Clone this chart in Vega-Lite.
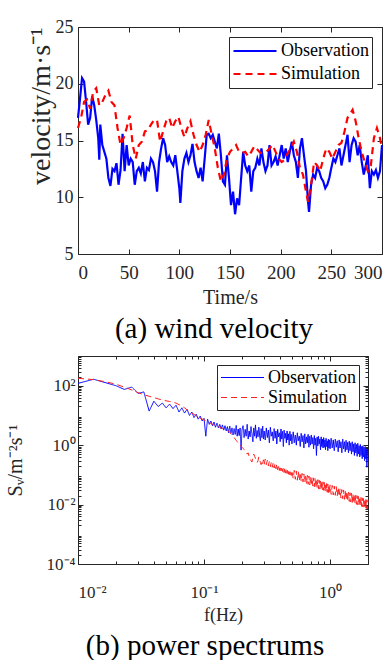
{
"$schema": "https://vega.github.io/schema/vega-lite/v6.json",
"padding": {"left": 4, "top": 17, "right": 0, "bottom": 0},
"spacing": 10,
"resolve": {"scale": {"color": "independent", "strokeDash": "independent"}, "legend": {"color": "independent", "strokeDash": "independent"}},
"config": {
  "font": "Liberation Serif",
  "view": {"stroke": "#262626", "strokeWidth": 1},
  "axis": {"domain": false, "grid": false, "tickColor": "#262626", "tickSize": -5, "labelPadding": 9, "labelFont": "Liberation Serif", "titleFont": "Liberation Serif", "labelColor": "#262626", "titleColor": "#262626", "titleFontWeight": "normal"},
  "legend": {"labelFont": "Liberation Serif", "labelColor": "black", "strokeColor": "#262626", "fillColor": "white", "symbolType": "stroke", "cornerRadius": 0}
},
"vconcat": [
{"resolve": {"scale": {"color": "independent", "strokeDash": "independent"}, "legend": {"color": "independent", "strokeDash": "independent"}},
 "hconcat": [
{
  "width": 304, "height": 227,
  "title": {"text": "(a) wind velocity", "orient": "bottom", "anchor": "middle", "fontSize": 29, "fontWeight": "normal", "font": "Liberation Serif", "color": "black", "offset": 8, "dx": -16},
  "data": {"values": [
{"t":0,"v":17,"s":"Observation"},{"t":2,"v":18.7,"s":"Observation"},{"t":4,"v":20.5,"s":"Observation"},{"t":6,"v":20.2,"s":"Observation"},{"t":8,"v":18.4,"s":"Observation"},{"t":10,"v":16.4,"s":"Observation"},{"t":12,"v":17,"s":"Observation"},{"t":14,"v":18.9,"s":"Observation"},{"t":16,"v":18.1,"s":"Observation"},{"t":18,"v":16.8,"s":"Observation"},{"t":20,"v":15.2,"s":"Observation"},{"t":21,"v":13.3,"s":"Observation"},{"t":22,"v":16.4,"s":"Observation"},{"t":24,"v":14.6,"s":"Observation"},{"t":26,"v":14,"s":"Observation"},{"t":28,"v":13.4,"s":"Observation"},{"t":30,"v":11.7,"s":"Observation"},{"t":32,"v":11,"s":"Observation"},{"t":34,"v":12.5,"s":"Observation"},{"t":36,"v":12.3,"s":"Observation"},{"t":38,"v":13,"s":"Observation"},{"t":40,"v":11.1,"s":"Observation"},{"t":42,"v":12.4,"s":"Observation"},{"t":44,"v":15.6,"s":"Observation"},{"t":46,"v":12.3,"s":"Observation"},{"t":48,"v":14.6,"s":"Observation"},{"t":50,"v":12.8,"s":"Observation"},{"t":52,"v":13.4,"s":"Observation"},{"t":54,"v":13.1,"s":"Observation"},{"t":56,"v":11.1,"s":"Observation"},{"t":58,"v":12.3,"s":"Observation"},{"t":60,"v":12.6,"s":"Observation"},{"t":62,"v":12.1,"s":"Observation"},{"t":64,"v":13.1,"s":"Observation"},{"t":66,"v":11.4,"s":"Observation"},{"t":68,"v":12.6,"s":"Observation"},{"t":70,"v":12.4,"s":"Observation"},{"t":72,"v":13.4,"s":"Observation"},{"t":74,"v":13.1,"s":"Observation"},{"t":76,"v":12.3,"s":"Observation"},{"t":78,"v":10.5,"s":"Observation"},{"t":80,"v":13.1,"s":"Observation"},{"t":82,"v":14.3,"s":"Observation"},{"t":84,"v":15.2,"s":"Observation"},{"t":86,"v":14.6,"s":"Observation"},{"t":88,"v":13.1,"s":"Observation"},{"t":90,"v":13.6,"s":"Observation"},{"t":92,"v":13.1,"s":"Observation"},{"t":94,"v":12.8,"s":"Observation"},{"t":96,"v":13.7,"s":"Observation"},{"t":98,"v":12.3,"s":"Observation"},{"t":100,"v":10.8,"s":"Observation"},{"t":101,"v":9.5,"s":"Observation"},{"t":103,"v":12.3,"s":"Observation"},{"t":105,"v":13.4,"s":"Observation"},{"t":107,"v":13.9,"s":"Observation"},{"t":109,"v":13.1,"s":"Observation"},{"t":111,"v":13.7,"s":"Observation"},{"t":113,"v":14.7,"s":"Observation"},{"t":115,"v":13.1,"s":"Observation"},{"t":117,"v":12.3,"s":"Observation"},{"t":119,"v":11.7,"s":"Observation"},{"t":121,"v":12.6,"s":"Observation"},{"t":123,"v":11.4,"s":"Observation"},{"t":125,"v":13.4,"s":"Observation"},{"t":127,"v":15.5,"s":"Observation"},{"t":129,"v":15.6,"s":"Observation"},{"t":131,"v":15.2,"s":"Observation"},{"t":133,"v":15.5,"s":"Observation"},{"t":135,"v":14.9,"s":"Observation"},{"t":137,"v":14.3,"s":"Observation"},{"t":139,"v":15.6,"s":"Observation"},{"t":141,"v":13.7,"s":"Observation"},{"t":143,"v":11.4,"s":"Observation"},{"t":145,"v":11.1,"s":"Observation"},{"t":147,"v":13.7,"s":"Observation"},{"t":149,"v":11.7,"s":"Observation"},{"t":151,"v":9.3,"s":"Observation"},{"t":153,"v":10.5,"s":"Observation"},{"t":155,"v":8.5,"s":"Observation"},{"t":157,"v":9.9,"s":"Observation"},{"t":159,"v":9.3,"s":"Observation"},{"t":161,"v":11.7,"s":"Observation"},{"t":163,"v":14,"s":"Observation"},{"t":165,"v":12.8,"s":"Observation"},{"t":167,"v":12.3,"s":"Observation"},{"t":169,"v":12.8,"s":"Observation"},{"t":171,"v":10.5,"s":"Observation"},{"t":173,"v":12.3,"s":"Observation"},{"t":175,"v":12.6,"s":"Observation"},{"t":177,"v":13.4,"s":"Observation"},{"t":179,"v":12.8,"s":"Observation"},{"t":181,"v":14.3,"s":"Observation"},{"t":183,"v":13.1,"s":"Observation"},{"t":185,"v":12.3,"s":"Observation"},{"t":187,"v":12.8,"s":"Observation"},{"t":189,"v":14.6,"s":"Observation"},{"t":191,"v":12.8,"s":"Observation"},{"t":193,"v":13.1,"s":"Observation"},{"t":195,"v":13.6,"s":"Observation"},{"t":197,"v":12.8,"s":"Observation"},{"t":199,"v":13.7,"s":"Observation"},{"t":201,"v":14.6,"s":"Observation"},{"t":203,"v":13.4,"s":"Observation"},{"t":205,"v":14.3,"s":"Observation"},{"t":207,"v":13.1,"s":"Observation"},{"t":209,"v":14,"s":"Observation"},{"t":211,"v":14.9,"s":"Observation"},{"t":213,"v":13.7,"s":"Observation"},{"t":215,"v":13.1,"s":"Observation"},{"t":217,"v":11.7,"s":"Observation"},{"t":219,"v":14.3,"s":"Observation"},{"t":221,"v":15.2,"s":"Observation"},{"t":223,"v":13.7,"s":"Observation"},{"t":225,"v":12.3,"s":"Observation"},{"t":227,"v":9.6,"s":"Observation"},{"t":228,"v":8.7,"s":"Observation"},{"t":230,"v":11.1,"s":"Observation"},{"t":232,"v":12,"s":"Observation"},{"t":234,"v":11.7,"s":"Observation"},{"t":236,"v":12.6,"s":"Observation"},{"t":238,"v":12.3,"s":"Observation"},{"t":240,"v":11.7,"s":"Observation"},{"t":242,"v":11.4,"s":"Observation"},{"t":244,"v":10.8,"s":"Observation"},{"t":246,"v":11.1,"s":"Observation"},{"t":248,"v":11.7,"s":"Observation"},{"t":250,"v":12.6,"s":"Observation"},{"t":252,"v":13.4,"s":"Observation"},{"t":254,"v":13.1,"s":"Observation"},{"t":256,"v":13.7,"s":"Observation"},{"t":258,"v":14.3,"s":"Observation"},{"t":260,"v":12.8,"s":"Observation"},{"t":262,"v":13.7,"s":"Observation"},{"t":264,"v":14.6,"s":"Observation"},{"t":266,"v":15.5,"s":"Observation"},{"t":268,"v":13.1,"s":"Observation"},{"t":270,"v":14.6,"s":"Observation"},{"t":272,"v":15.2,"s":"Observation"},{"t":274,"v":14.9,"s":"Observation"},{"t":276,"v":13.7,"s":"Observation"},{"t":278,"v":14.6,"s":"Observation"},{"t":280,"v":13.1,"s":"Observation"},{"t":282,"v":12,"s":"Observation"},{"t":284,"v":12.8,"s":"Observation"},{"t":286,"v":13.7,"s":"Observation"},{"t":288,"v":10.8,"s":"Observation"},{"t":290,"v":12.3,"s":"Observation"},{"t":292,"v":12,"s":"Observation"},{"t":294,"v":12.4,"s":"Observation"},{"t":296,"v":11.7,"s":"Observation"},{"t":298,"v":12.3,"s":"Observation"},{"t":300,"v":14.6,"s":"Observation"},
{"t":0,"v":16.1,"s":"Simulation"},{"t":3,"v":17,"s":"Simulation"},{"t":6,"v":18.4,"s":"Simulation"},{"t":9,"v":18.6,"s":"Simulation"},{"t":12,"v":17.8,"s":"Simulation"},{"t":15,"v":19.3,"s":"Simulation"},{"t":18,"v":19.6,"s":"Simulation"},{"t":21,"v":18.1,"s":"Simulation"},{"t":24,"v":18.4,"s":"Simulation"},{"t":27,"v":19,"s":"Simulation"},{"t":30,"v":19.4,"s":"Simulation"},{"t":33,"v":18.4,"s":"Simulation"},{"t":36,"v":18.1,"s":"Simulation"},{"t":39,"v":16.1,"s":"Simulation"},{"t":42,"v":14.6,"s":"Simulation"},{"t":45,"v":15.2,"s":"Simulation"},{"t":48,"v":16.1,"s":"Simulation"},{"t":51,"v":17.2,"s":"Simulation"},{"t":54,"v":14.6,"s":"Simulation"},{"t":57,"v":13.4,"s":"Simulation"},{"t":60,"v":14.6,"s":"Simulation"},{"t":63,"v":14.9,"s":"Simulation"},{"t":66,"v":15.8,"s":"Simulation"},{"t":69,"v":15.9,"s":"Simulation"},{"t":72,"v":16.4,"s":"Simulation"},{"t":75,"v":16.8,"s":"Simulation"},{"t":78,"v":16.8,"s":"Simulation"},{"t":81,"v":14.9,"s":"Simulation"},{"t":84,"v":15.8,"s":"Simulation"},{"t":87,"v":16.7,"s":"Simulation"},{"t":90,"v":17,"s":"Simulation"},{"t":93,"v":16.1,"s":"Simulation"},{"t":96,"v":16.7,"s":"Simulation"},{"t":99,"v":17.1,"s":"Simulation"},{"t":102,"v":16.1,"s":"Simulation"},{"t":105,"v":15.3,"s":"Simulation"},{"t":108,"v":16.1,"s":"Simulation"},{"t":111,"v":16.7,"s":"Simulation"},{"t":114,"v":15.5,"s":"Simulation"},{"t":117,"v":14.6,"s":"Simulation"},{"t":120,"v":14,"s":"Simulation"},{"t":123,"v":14.6,"s":"Simulation"},{"t":126,"v":15.5,"s":"Simulation"},{"t":129,"v":16.8,"s":"Simulation"},{"t":132,"v":15.5,"s":"Simulation"},{"t":135,"v":14.3,"s":"Simulation"},{"t":138,"v":12.6,"s":"Simulation"},{"t":141,"v":11.4,"s":"Simulation"},{"t":144,"v":12,"s":"Simulation"},{"t":147,"v":13.4,"s":"Simulation"},{"t":150,"v":14,"s":"Simulation"},{"t":153,"v":14.3,"s":"Simulation"},{"t":156,"v":14.6,"s":"Simulation"},{"t":159,"v":14,"s":"Simulation"},{"t":162,"v":13.9,"s":"Simulation"},{"t":165,"v":14,"s":"Simulation"},{"t":168,"v":13.6,"s":"Simulation"},{"t":171,"v":14,"s":"Simulation"},{"t":174,"v":14.5,"s":"Simulation"},{"t":177,"v":14.2,"s":"Simulation"},{"t":180,"v":13.9,"s":"Simulation"},{"t":183,"v":13.9,"s":"Simulation"},{"t":186,"v":14,"s":"Simulation"},{"t":189,"v":14.3,"s":"Simulation"},{"t":192,"v":14.6,"s":"Simulation"},{"t":195,"v":14,"s":"Simulation"},{"t":198,"v":13.4,"s":"Simulation"},{"t":201,"v":13.1,"s":"Simulation"},{"t":204,"v":13.3,"s":"Simulation"},{"t":207,"v":13.9,"s":"Simulation"},{"t":210,"v":14.3,"s":"Simulation"},{"t":213,"v":14.9,"s":"Simulation"},{"t":216,"v":14,"s":"Simulation"},{"t":219,"v":12.6,"s":"Simulation"},{"t":222,"v":12,"s":"Simulation"},{"t":225,"v":10.5,"s":"Simulation"},{"t":227,"v":9.6,"s":"Simulation"},{"t":230,"v":11.1,"s":"Simulation"},{"t":233,"v":13.1,"s":"Simulation"},{"t":236,"v":12.8,"s":"Simulation"},{"t":239,"v":12.3,"s":"Simulation"},{"t":242,"v":13.4,"s":"Simulation"},{"t":245,"v":14.3,"s":"Simulation"},{"t":248,"v":14,"s":"Simulation"},{"t":251,"v":13.4,"s":"Simulation"},{"t":254,"v":14,"s":"Simulation"},{"t":257,"v":14.6,"s":"Simulation"},{"t":260,"v":14.8,"s":"Simulation"},{"t":263,"v":15.8,"s":"Simulation"},{"t":266,"v":17,"s":"Simulation"},{"t":269,"v":17.4,"s":"Simulation"},{"t":271,"v":17.7,"s":"Simulation"},{"t":274,"v":16.7,"s":"Simulation"},{"t":277,"v":15.2,"s":"Simulation"},{"t":280,"v":14,"s":"Simulation"},{"t":283,"v":13.1,"s":"Simulation"},{"t":286,"v":12.3,"s":"Simulation"},{"t":289,"v":12.8,"s":"Simulation"},{"t":292,"v":15.2,"s":"Simulation"},{"t":295,"v":16.1,"s":"Simulation"},{"t":298,"v":15.2,"s":"Simulation"},{"t":300,"v":14.3,"s":"Simulation"}
  ]},
  "layer": [
    {"mark": {"type": "line", "strokeWidth": 2.2},
     "encoding": {
       "x": {"field": "t", "type": "quantitative", "scale": {"domain": [0, 300], "nice": false}, "axis": {"orient": "bottom", "values": [0, 50, 100, 150, 200, 250, 300], "title": "Time/s", "labelFontSize": 19, "labelPadding": 14, "titleFontSize": 20, "titlePadding": 5}},
       "y": {"field": "v", "type": "quantitative", "scale": {"domain": [5, 25], "nice": false}, "axis": {"orient": "left", "values": [5, 10, 15, 20, 25], "title": "velocity/m·s⁻¹", "titleAnchor": "end", "labelFontSize": 18, "labelPadding": 10, "titleFontSize": 28, "titlePadding": 0}},
       "color": {"field": "s", "type": "nominal", "scale": {"domain": ["Observation", "Simulation"], "range": ["#0000ff", "#ff0000"]}, "legend": {"title": null, "orient": "top-right", "offset": 10, "labelFontSize": 18, "symbolSize": 1850, "symbolStrokeWidth": 2, "labelOffset": 3, "clipHeight": 22, "rowPadding": 1, "padding": 3, "encode": {"symbols": {"update": {"strokeDash": {"signal": "datum.value === 'Simulation' ? [7, 5] : [1, 0]"}}}}}},
       "strokeDash": {"field": "s", "type": "nominal", "scale": {"domain": ["Observation", "Simulation"], "range": [[1, 0], [7, 5]]}, "legend": null}
     }},
    {"mark": {"type": "point", "opacity": 0},
     "encoding": {
       "x": {"field": "t", "type": "quantitative", "axis": {"orient": "top", "values": [0, 50, 100, 150, 200, 250, 300], "labels": false, "title": null}},
       "y": {"field": "v", "type": "quantitative", "axis": {"orient": "right", "values": [5, 10, 15, 20, 25], "labels": false, "title": null}}
     }}
  ],
  "resolve": {"axis": {"x": "independent", "y": "independent"}}
}
]},
{"resolve": {"scale": {"color": "independent", "strokeDash": "independent"}, "legend": {"color": "independent", "strokeDash": "independent"}},
 "hconcat": [
{
  "width": 290, "height": 208,
  "title": {"text": "(b) power spectrums", "orient": "bottom", "anchor": "middle", "fontSize": 29, "fontWeight": "normal", "font": "Liberation Serif", "color": "black", "offset": 8, "dx": -18},
  "data": {"values": [
{"f":0.01,"Observation":120,"Simulation":178},{"f":0.0133,"Observation":165,"Simulation":160},{"f":0.0167,"Observation":125,"Simulation":135},{"f":0.02,"Observation":100,"Simulation":112},{"f":0.0233,"Observation":75,"Simulation":90},{"f":0.0267,"Observation":90,"Simulation":72},{"f":0.03,"Observation":55,"Simulation":58},{"f":0.0333,"Observation":62,"Simulation":50},{"f":0.0367,"Observation":14,"Simulation":44},{"f":0.04,"Observation":30,"Simulation":40},{"f":0.0433,"Observation":20,"Simulation":36},{"f":0.0467,"Observation":26,"Simulation":33},{"f":0.05,"Observation":18,"Simulation":31},{"f":0.0533,"Observation":24,"Simulation":29.5},{"f":0.0567,"Observation":17,"Simulation":28},{"f":0.06,"Observation":22,"Simulation":26},{"f":0.0633,"Observation":13,"Simulation":23},{"f":0.0667,"Observation":18,"Simulation":20.5},{"f":0.07,"Observation":12,"Simulation":18},{"f":0.0733,"Observation":16,"Simulation":15.5},{"f":0.0767,"Observation":10,"Simulation":13.5},{"f":0.08,"Observation":13,"Simulation":12},{"f":0.0833,"Observation":8.5,"Simulation":10.8},{"f":0.0867,"Observation":11,"Simulation":9.6},{"f":0.09,"Observation":7.5,"Simulation":8.7},{"f":0.0933,"Observation":9.5,"Simulation":8},{"f":0.0967,"Observation":6.5,"Simulation":7.5},{"f":0.1,"Observation":8,"Simulation":7},{"f":0.1033,"Observation":2,"Simulation":6.6},{"f":0.1067,"Observation":7.5,"Simulation":6.2},{"f":0.11,"Observation":5,"Simulation":5.7},{"f":0.1133,"Observation":6.5,"Simulation":5.4},{"f":0.1167,"Observation":4.5,"Simulation":5},{"f":0.12,"Observation":6,"Simulation":4.8},{"f":0.1233,"Observation":4,"Simulation":4.6},{"f":0.1267,"Observation":5.5,"Simulation":4.4},{"f":0.13,"Observation":3.8,"Simulation":4.2},{"f":0.1333,"Observation":5,"Simulation":4},{"f":0.1367,"Observation":3.5,"Simulation":3.8},{"f":0.14,"Observation":4.8,"Simulation":3.6},{"f":0.1433,"Observation":3.2,"Simulation":3.5},{"f":0.1467,"Observation":4.5,"Simulation":3.4},{"f":0.15,"Observation":3,"Simulation":3.3},{"f":0.1533,"Observation":4.2,"Simulation":3.1},{"f":0.1567,"Observation":2.6,"Simulation":2.9},{"f":0.16,"Observation":4.4,"Simulation":2.7},{"f":0.1633,"Observation":2.5,"Simulation":2.5},{"f":0.1667,"Observation":3.8,"Simulation":2.2},{"f":0.17,"Observation":2.2,"Simulation":2},{"f":0.1733,"Observation":3.6,"Simulation":1.8},{"f":0.1767,"Observation":2.3,"Simulation":1.6},{"f":0.18,"Observation":4.6,"Simulation":1.45},{"f":0.1833,"Observation":2,"Simulation":1.3},{"f":0.1867,"Observation":3.5,"Simulation":1.2},{"f":0.19,"Observation":2.1,"Simulation":1.1},{"f":0.1933,"Observation":3.8,"Simulation":1},{"f":0.1967,"Observation":0.68,"Simulation":0.92},{"f":0.2,"Observation":3.2,"Simulation":0.85},
{"f":0.204,"Observation":4.5,"Simulation":0.78},{"f":0.208,"Observation":1.8,"Simulation":0.7},{"f":0.212,"Observation":3.4,"Simulation":0.66},{"f":0.216,"Observation":2,"Simulation":0.6},{"f":0.22,"Observation":5,"Simulation":0.5},{"f":0.224,"Observation":1.6,"Simulation":0.55},{"f":0.228,"Observation":3,"Simulation":0.42},{"f":0.232,"Observation":1.9,"Simulation":0.35},{"f":0.236,"Observation":4.2,"Simulation":0.3},{"f":0.24,"Observation":2.4,"Simulation":0.27},{"f":0.244,"Observation":1.3,"Simulation":0.4},{"f":0.248,"Observation":3.8,"Simulation":0.5},{"f":0.252,"Observation":2,"Simulation":0.42},{"f":0.256,"Observation":4.8,"Simulation":0.36},{"f":0.26,"Observation":1.7,"Simulation":0.3},{"f":0.264,"Observation":3.1,"Simulation":0.26},{"f":0.268,"Observation":1.9,"Simulation":0.3},{"f":0.272,"Observation":4,"Simulation":0.4},{"f":0.276,"Observation":2.2,"Simulation":0.32},{"f":0.28,"Observation":1.4,"Simulation":0.26},{"f":0.284,"Observation":3.6,"Simulation":0.22},{"f":0.288,"Observation":1.8,"Simulation":0.3},{"f":0.292,"Observation":4.4,"Simulation":0.24},{"f":0.296,"Observation":1.6,"Simulation":0.32},{"f":0.3,"Observation":3,"Simulation":0.22},
{"f":0.306,"Observation":1.5,"Simulation":0.34},{"f":0.312,"Observation":3.8,"Simulation":0.22},{"f":0.318,"Observation":1.8,"Simulation":0.31},{"f":0.324,"Observation":3.2,"Simulation":0.2},{"f":0.33,"Observation":1.2,"Simulation":0.29},{"f":0.336,"Observation":4,"Simulation":0.19},{"f":0.342,"Observation":2,"Simulation":0.27},{"f":0.348,"Observation":2.8,"Simulation":0.18},{"f":0.354,"Observation":1.4,"Simulation":0.26},{"f":0.36,"Observation":3.6,"Simulation":0.17},{"f":0.366,"Observation":1.7,"Simulation":0.24},{"f":0.372,"Observation":3,"Simulation":0.16},{"f":0.378,"Observation":1.1,"Simulation":0.23},{"f":0.384,"Observation":3.4,"Simulation":0.15},{"f":0.39,"Observation":1.9,"Simulation":0.22},{"f":0.396,"Observation":2.6,"Simulation":0.14},{"f":0.402,"Observation":1.3,"Simulation":0.2},{"f":0.408,"Observation":3.5,"Simulation":0.135},{"f":0.414,"Observation":1.6,"Simulation":0.19},{"f":0.42,"Observation":2.9,"Simulation":0.13},{"f":0.426,"Observation":0.9,"Simulation":0.18},{"f":0.432,"Observation":3.2,"Simulation":0.12},{"f":0.438,"Observation":1.7,"Simulation":0.175},{"f":0.444,"Observation":2.5,"Simulation":0.115},{"f":0.45,"Observation":1.2,"Simulation":0.165},{"f":0.456,"Observation":3,"Simulation":0.11},{"f":0.462,"Observation":1.5,"Simulation":0.16},{"f":0.468,"Observation":2.4,"Simulation":0.105},{"f":0.474,"Observation":1,"Simulation":0.15},{"f":0.48,"Observation":2.9,"Simulation":0.1},{"f":0.486,"Observation":1.4,"Simulation":0.145},{"f":0.492,"Observation":2.3,"Simulation":0.095},{"f":0.498,"Observation":1.1,"Simulation":0.14},
{"f":0.51,"Observation":2.8,"Simulation":0.075},{"f":0.52,"Observation":1.2,"Simulation":0.142},{"f":0.53,"Observation":2.2,"Simulation":0.071},{"f":0.54,"Observation":1,"Simulation":0.135},{"f":0.55,"Observation":2.6,"Simulation":0.066},{"f":0.56,"Observation":1.4,"Simulation":0.128},{"f":0.57,"Observation":2,"Simulation":0.063},{"f":0.58,"Observation":0.9,"Simulation":0.12},{"f":0.59,"Observation":2.5,"Simulation":0.06},{"f":0.6,"Observation":1.3,"Simulation":0.112},{"f":0.61,"Observation":2.1,"Simulation":0.058},{"f":0.62,"Observation":0.8,"Simulation":0.106},{"f":0.63,"Observation":2.4,"Simulation":0.055},{"f":0.64,"Observation":1.1,"Simulation":0.1},{"f":0.65,"Observation":1.9,"Simulation":0.05},{"f":0.66,"Observation":1.2,"Simulation":0.096},{"f":0.67,"Observation":2.3,"Simulation":0.048},{"f":0.68,"Observation":0.85,"Simulation":0.092},{"f":0.69,"Observation":2,"Simulation":0.046},{"f":0.7,"Observation":1,"Simulation":0.087},{"f":0.71,"Observation":2.2,"Simulation":0.044},{"f":0.72,"Observation":1.1,"Simulation":0.083},{"f":0.73,"Observation":1.8,"Simulation":0.042},{"f":0.74,"Observation":0.75,"Simulation":0.079},{"f":0.75,"Observation":2.1,"Simulation":0.04},{"f":0.76,"Observation":1,"Simulation":0.075},{"f":0.77,"Observation":1.7,"Simulation":0.038},{"f":0.78,"Observation":0.45,"Simulation":0.072},{"f":0.79,"Observation":1.9,"Simulation":0.036},{"f":0.8,"Observation":0.95,"Simulation":0.069},{"f":0.81,"Observation":2,"Simulation":0.034},{"f":0.82,"Observation":1.1,"Simulation":0.066},{"f":0.83,"Observation":1.6,"Simulation":0.033},{"f":0.84,"Observation":0.7,"Simulation":0.063},{"f":0.85,"Observation":1.9,"Simulation":0.032},{"f":0.86,"Observation":0.9,"Simulation":0.061},{"f":0.87,"Observation":1.6,"Simulation":0.031},{"f":0.88,"Observation":0.8,"Simulation":0.058},{"f":0.89,"Observation":1.8,"Simulation":0.03},{"f":0.9,"Observation":0.85,"Simulation":0.056},{"f":0.91,"Observation":1.5,"Simulation":0.028},{"f":0.92,"Observation":0.7,"Simulation":0.053},{"f":0.93,"Observation":1.7,"Simulation":0.027},{"f":0.94,"Observation":0.9,"Simulation":0.051},{"f":0.95,"Observation":1.4,"Simulation":0.026},{"f":0.96,"Observation":0.65,"Simulation":0.049},{"f":0.97,"Observation":1.6,"Simulation":0.025},{"f":0.98,"Observation":0.8,"Simulation":0.047},{"f":0.99,"Observation":1.5,"Simulation":0.024},{"f":1.0,"Observation":0.75,"Simulation":0.046},
{"f":1.02,"Observation":1.7,"Simulation":0.022},{"f":1.04,"Observation":0.8,"Simulation":0.044},{"f":1.06,"Observation":1.5,"Simulation":0.021},{"f":1.08,"Observation":0.65,"Simulation":0.042},{"f":1.1,"Observation":1.6,"Simulation":0.0205},{"f":1.12,"Observation":0.85,"Simulation":0.04},{"f":1.14,"Observation":1.4,"Simulation":0.0195},{"f":1.16,"Observation":0.6,"Simulation":0.038},{"f":1.18,"Observation":1.5,"Simulation":0.0185},{"f":1.2,"Observation":0.8,"Simulation":0.034},{"f":1.22,"Observation":1.3,"Simulation":0.0165},{"f":1.24,"Observation":0.55,"Simulation":0.032},{"f":1.26,"Observation":1.6,"Simulation":0.0158},{"f":1.28,"Observation":0.75,"Simulation":0.031},{"f":1.3,"Observation":1.3,"Simulation":0.015},{"f":1.32,"Observation":0.6,"Simulation":0.029},{"f":1.34,"Observation":1.45,"Simulation":0.0143},{"f":1.36,"Observation":0.7,"Simulation":0.028},{"f":1.38,"Observation":1.25,"Simulation":0.0137},{"f":1.4,"Observation":0.55,"Simulation":0.026},{"f":1.42,"Observation":1.35,"Simulation":0.0128},{"f":1.44,"Observation":0.65,"Simulation":0.025},{"f":1.46,"Observation":1.2,"Simulation":0.0122},{"f":1.48,"Observation":0.5,"Simulation":0.024},{"f":1.5,"Observation":1.3,"Simulation":0.0117},{"f":1.52,"Observation":0.6,"Simulation":0.023},{"f":1.54,"Observation":1.1,"Simulation":0.0112},{"f":1.56,"Observation":0.45,"Simulation":0.022},{"f":1.58,"Observation":1.2,"Simulation":0.0107},{"f":1.6,"Observation":0.55,"Simulation":0.0205},{"f":1.62,"Observation":1.05,"Simulation":0.0102},{"f":1.64,"Observation":0.42,"Simulation":0.0198},{"f":1.66,"Observation":1.15,"Simulation":0.0098},{"f":1.68,"Observation":0.5,"Simulation":0.019},{"f":1.7,"Observation":0.95,"Simulation":0.0094},{"f":1.72,"Observation":0.4,"Simulation":0.0182},{"f":1.74,"Observation":1.05,"Simulation":0.009},{"f":1.76,"Observation":0.45,"Simulation":0.0175},{"f":1.78,"Observation":0.9,"Simulation":0.0087},{"f":1.8,"Observation":0.35,"Simulation":0.0168},{"f":1.82,"Observation":0.95,"Simulation":0.0083},{"f":1.84,"Observation":0.4,"Simulation":0.016},{"f":1.86,"Observation":0.85,"Simulation":0.008},{"f":1.88,"Observation":0.3,"Simulation":0.0155},{"f":1.9,"Observation":0.9,"Simulation":0.0077},{"f":1.92,"Observation":0.35,"Simulation":0.015},{"f":1.94,"Observation":0.75,"Simulation":0.0074},{"f":1.96,"Observation":0.18,"Simulation":0.0145},{"f":1.98,"Observation":0.8,"Simulation":0.0071},{"f":2.0,"Observation":0.3,"Simulation":0.0138}
  ]},
  "transform": [{"fold": ["Observation", "Simulation"], "as": ["s", "S"]}],
  "layer": [
    {"mark": {"type": "line", "strokeWidth": 1},
     "encoding": {
       "x": {"field": "f", "type": "quantitative", "scale": {"type": "log", "domain": [0.01, 2], "nice": false}, "axis": {"orient": "bottom", "values": [0.01, 0.1, 1], "labelExpr": "datum.value < 0.05 ? '10⁻²' : datum.value < 0.5 ? '10⁻¹' : '10⁰'", "title": "f(Hz)", "labelFontSize": 17, "labelPadding": 25, "titleFontSize": 18, "titlePadding": 6}},
       "y": {"field": "S", "type": "quantitative", "scale": {"type": "log", "domain": [0.0001, 1000], "nice": false}, "axis": {"orient": "left", "values": [0.0001, 0.01, 1, 100], "labelExpr": "datum.value > 10 ? '10²' : datum.value > 0.1 ? '10⁰' : datum.value > 0.001 ? '10⁻²' : '10⁻⁴'", "title": "Sᵥ/m⁻²s⁻¹", "labelFontSize": 17, "labelPadding": 8, "titleFontSize": 20, "titlePadding": 21}},
       "color": {"field": "s", "type": "nominal", "scale": {"domain": ["Observation", "Simulation"], "range": ["#0000ff", "#ff2020"]}, "legend": {"title": null, "orient": "top-right", "offset": 9, "labelFontSize": 18, "symbolSize": 1850, "symbolStrokeWidth": 1.2, "labelOffset": 3, "clipHeight": 19, "rowPadding": 1, "padding": 3, "encode": {"symbols": {"update": {"strokeDash": {"signal": "datum.value === 'Simulation' ? [6, 4] : [1, 0]"}}}}}},
       "strokeDash": {"field": "s", "type": "nominal", "scale": {"domain": ["Observation", "Simulation"], "range": [[1, 0], [6, 4]]}, "legend": null}
     }},
    {"data": {"values": [{"f": 0.1, "S": 1}]},
     "mark": {"type": "point", "opacity": 0},
     "encoding": {
       "x": {"field": "f", "type": "quantitative", "axis": {"orient": "top", "values": [0.01, 0.1, 1], "labels": false, "title": null}},
       "y": {"field": "S", "type": "quantitative", "axis": {"orient": "right", "values": [0.0001, 0.01, 1, 100], "labels": false, "title": null}}
     }},
    {"data": {"values": [{"f": 0.1, "S": 1}]},
     "mark": {"type": "point", "opacity": 0},
     "encoding": {
       "x": {"field": "f", "type": "quantitative", "axis": {"orient": "bottom", "values": [0.02, 0.03, 0.04, 0.05, 0.06, 0.07, 0.08, 0.09, 0.2, 0.3, 0.4, 0.5, 0.6, 0.7, 0.8, 0.9, 2], "labels": false, "title": null, "tickSize": -3}},
       "y": {"field": "S", "type": "quantitative", "axis": {"orient": "left", "values": [0.0002, 0.0003, 0.0004, 0.0005, 0.0006, 0.0007, 0.0008, 0.0009, 0.002, 0.003, 0.004, 0.005, 0.006, 0.007, 0.008, 0.009, 0.02, 0.03, 0.04, 0.05, 0.06, 0.07, 0.08, 0.09, 0.2, 0.3, 0.4, 0.5, 0.6, 0.7, 0.8, 0.9, 2, 3, 4, 5, 6, 7, 8, 9, 20, 30, 40, 50, 60, 70, 80, 90, 200, 300, 400, 500, 600, 700, 800, 900, 1000], "labels": false, "title": null, "tickSize": -3}}
     }},
    {"data": {"values": [{"f": 0.1, "S": 1}]},
     "mark": {"type": "point", "opacity": 0},
     "encoding": {
       "x": {"field": "f", "type": "quantitative", "axis": {"orient": "top", "values": [0.02, 0.03, 0.04, 0.05, 0.06, 0.07, 0.08, 0.09, 0.2, 0.3, 0.4, 0.5, 0.6, 0.7, 0.8, 0.9, 2], "labels": false, "title": null, "tickSize": -3}},
       "y": {"field": "S", "type": "quantitative", "axis": {"orient": "right", "values": [0.0002, 0.0003, 0.0004, 0.0005, 0.0006, 0.0007, 0.0008, 0.0009, 0.002, 0.003, 0.004, 0.005, 0.006, 0.007, 0.008, 0.009, 0.02, 0.03, 0.04, 0.05, 0.06, 0.07, 0.08, 0.09, 0.2, 0.3, 0.4, 0.5, 0.6, 0.7, 0.8, 0.9, 2, 3, 4, 5, 6, 7, 8, 9, 20, 30, 40, 50, 60, 70, 80, 90, 200, 300, 400, 500, 600, 700, 800, 900, 1000], "labels": false, "title": null, "tickSize": -3}}
     }}
  ],
  "resolve": {"axis": {"x": "independent", "y": "independent"}}
}
]}
]
}
